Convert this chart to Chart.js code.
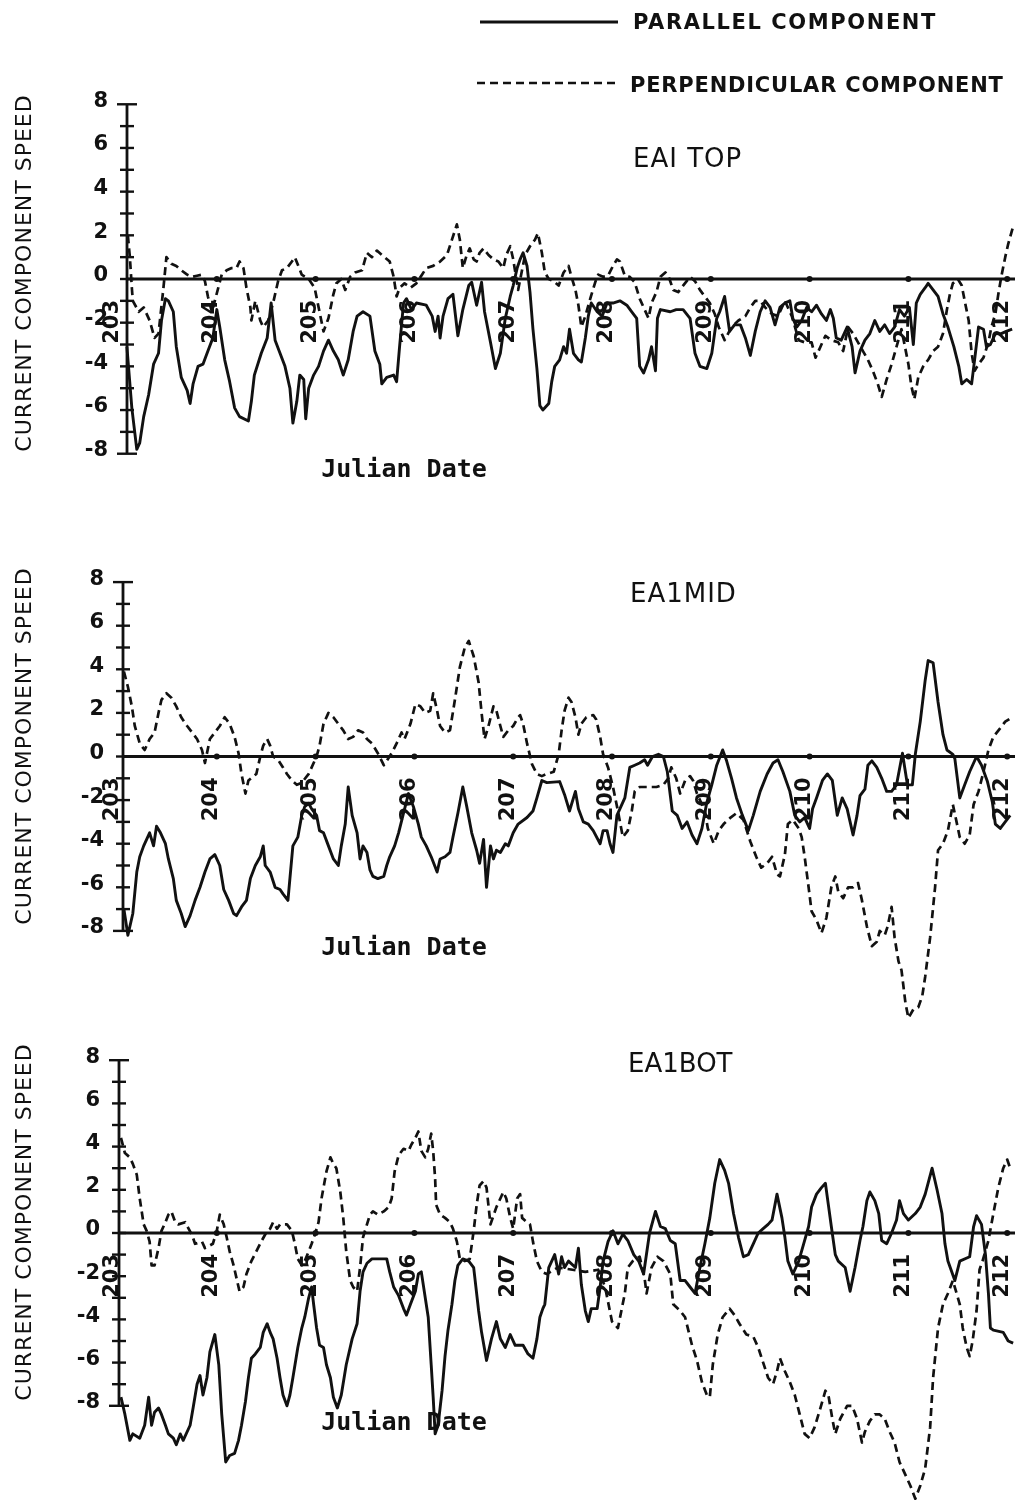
<!DOCTYPE html>
<html>
<head>
<meta charset="utf-8">
<title>Current component speed — EA1 top, mid, bottom</title>
<script src="https://cdn.jsdelivr.net/npm/chart.js@4.4.0/dist/chart.umd.min.js"></script>
<style>
  html, body { margin: 0; padding: 0; background: #fff; }
  #page { position: relative; width: 1017px; height: 1503px; overflow: hidden; background: #fff; }
  #page canvas { position: absolute; left: 0; top: 0; }
</style>
</head>
<body>
<div id="page">
  <canvas id="cTop" width="1017" height="1503"></canvas>
  <canvas id="cMid" width="1017" height="1503"></canvas>
  <canvas id="cBot" width="1017" height="1503"></canvas>
</div>
<script>
// ---- axis ticks and labels ----
const dayTicks = [203, 204, 205, 206, 207, 208, 209, 210, 211, 212];
const dayLabels = ['203', '204', '205', '206', '207', '208', '209', '210', '211', '212'];
const speedTicks = [8, 6, 4, 2, 0, -2, -4, -6, -8];
const speedTickLabels = ['8', '6', '4', '2', '0', '-2', '-4', '-6', '-8'];
const seriesNames = ['PARALLEL COMPONENT', 'PERPENDICULAR COMPONENT'];
const panelTitles = ['EAI TOP', 'EA1MID', 'EA1BOT'];
const dateAxisTitle = 'Julian Date';
const speedAxisTitle = 'CURRENT COMPONENT SPEED';

// ---- EA1 top ----
const topParallelDay = [203.09,203.14,203.19,203.22,203.26,203.31,203.36,203.41,203.44,203.48,
  203.51,203.56,203.59,203.64,203.70,203.73,203.76,203.81,203.86,203.91,
  203.96,204.00,204.03,204.08,204.13,204.18,204.23,204.32,204.35,204.38,
  204.45,204.51,204.55,204.59,204.64,204.69,204.74,204.77,204.81,204.84,
  204.88,204.90,204.93,204.98,205.03,205.08,205.13,205.18,205.23,205.28,
  205.33,205.38,205.42,205.48,205.55,205.60,205.65,205.67,205.72,205.79,
  205.82,205.85,205.89,205.92,205.97,206.02,206.12,206.18,206.21,206.24,
  206.26,206.29,206.34,206.39,206.44,206.49,206.55,206.58,206.63,206.68,
  206.71,206.77,206.82,206.87,206.92,206.97,207.00,207.04,207.07,207.10,
  207.14,207.17,207.20,207.24,207.27,207.30,207.36,207.39,207.42,207.47,
  207.51,207.54,207.57,207.61,207.66,207.69,207.73,207.76,207.79,207.85,
  207.90,207.95,208.01,208.08,208.15,208.20,208.25,208.28,208.32,208.37,
  208.40,208.44,208.46,208.49,208.59,208.65,208.72,208.79,208.84,208.89,
  208.96,209.01,209.06,209.09,209.14,209.19,209.24,209.30,209.35,209.40,
  209.45,209.50,209.55,209.60,209.65,209.70,209.75,209.80,209.83,209.87,
  209.92,209.97,210.02,210.07,210.12,210.17,210.21,210.24,210.27,210.32,
  210.38,210.43,210.46,210.51,210.56,210.61,210.66,210.71,210.76,210.81,
  210.86,210.91,210.96,211.01,211.05,211.08,211.12,211.17,211.20,211.25,
  211.30,211.35,211.40,211.46,211.51,211.54,211.59,211.64,211.67,211.71,
  211.76,211.79,211.83,211.88,211.94,211.99,212.05];
const topParallelSpeed = [-3.1,-5.9,-7.8,-7.5,-6.3,-5.3,-3.9,-3.4,-1.9,-0.9,
  -1.0,-1.5,-3.1,-4.5,-5.1,-5.7,-4.8,-4.0,-3.9,-3.3,
  -2.7,-1.4,-2.2,-3.7,-4.7,-5.9,-6.3,-6.5,-5.6,-4.4,
  -3.4,-2.7,-1.1,-2.8,-3.4,-4.0,-5.0,-6.6,-5.6,-4.4,
  -4.6,-6.4,-5.0,-4.4,-4.0,-3.3,-2.8,-3.3,-3.7,-4.4,
  -3.7,-2.4,-1.7,-1.5,-1.7,-3.3,-3.9,-4.8,-4.5,-4.4,
  -4.7,-3.1,-1.1,-0.9,-1.4,-1.1,-1.2,-1.7,-2.4,-1.7,
  -2.7,-1.7,-0.9,-0.7,-2.6,-1.4,-0.3,-0.15,-1.2,-0.15,
  -1.5,-2.9,-4.1,-3.4,-1.8,-0.8,-0.3,0.5,0.9,1.2,
  0.6,-0.6,-2.3,-4.1,-5.8,-6.0,-5.7,-4.7,-4.0,-3.7,
  -3.1,-3.4,-2.3,-3.4,-3.7,-3.8,-2.7,-1.7,-1.1,-1.5,
  -1.7,-1.1,-1.1,-1.0,-1.2,-1.5,-1.8,-4.0,-4.3,-3.7,
  -3.1,-4.2,-1.8,-1.4,-1.5,-1.4,-1.4,-1.8,-3.4,-4.0,
  -4.1,-3.4,-1.8,-1.5,-0.8,-2.4,-2.1,-2.1,-2.7,-3.5,
  -2.4,-1.5,-1.0,-1.3,-2.1,-1.3,-1.1,-1.0,-1.8,-2.2,
  -1.9,-1.3,-1.5,-1.2,-1.6,-1.9,-1.4,-1.8,-2.7,-2.8,
  -2.2,-3.1,-4.3,-3.3,-2.8,-2.5,-1.9,-2.4,-2.1,-2.5,
  -2.2,-1.4,-1.7,-1.3,-3.0,-1.1,-0.7,-0.4,-0.2,-0.5,
  -0.8,-1.6,-2.2,-3.1,-4.0,-4.8,-4.6,-4.8,-3.7,-2.2,
  -2.3,-3.1,-3.0,-2.5,-2.5,-2.4,-2.3];
const topPerpDay = [203.10,203.12,203.14,203.15,203.21,203.26,203.32,203.37,203.41,203.46,
  203.49,203.54,203.59,203.64,203.70,203.75,203.80,203.85,203.88,203.91,
  203.95,203.98,204.05,204.10,204.15,204.20,204.23,204.27,204.30,204.34,
  204.35,204.39,204.44,204.47,204.52,204.57,204.62,204.66,204.71,204.76,
  204.79,204.86,204.93,204.99,205.08,205.13,205.18,205.21,205.26,205.30,
  205.35,205.40,205.47,205.52,205.57,205.62,205.67,205.75,205.79,205.82,
  205.85,205.90,205.96,206.02,206.07,206.12,206.19,206.26,206.33,206.38,
  206.43,206.46,206.49,206.53,206.56,206.60,206.63,206.66,206.70,206.75,
  206.80,206.85,206.90,206.93,206.97,207.00,207.05,207.12,207.17,207.22,
  207.25,207.29,207.32,207.36,207.41,207.46,207.51,207.56,207.59,207.63,
  207.66,207.69,207.73,207.78,207.83,207.86,207.91,207.96,208.01,208.05,
  208.08,208.13,208.18,208.23,208.28,208.33,208.37,208.40,208.45,208.49,
  208.54,208.57,208.62,208.67,208.72,208.79,208.84,208.89,208.94,208.99,
  209.04,209.08,209.14,209.21,209.28,209.35,209.40,209.45,209.50,209.55,
  209.62,209.68,209.75,209.82,209.89,209.95,210.02,210.06,210.11,210.16,
  210.22,210.29,210.34,210.39,210.44,210.49,210.54,210.59,210.64,210.69,
  210.73,210.78,210.83,210.88,210.93,211.00,211.03,211.06,211.10,211.15,
  211.20,211.25,211.30,211.35,211.39,211.42,211.45,211.50,211.54,211.57,
  211.61,211.64,211.67,211.71,211.76,211.81,211.84,211.88,211.91,211.94,
  211.98,212.01,212.06];
const topPerpSpeed = [2.0,1.0,-0.4,-1.0,-1.5,-1.3,-1.9,-2.7,-2.5,-0.4,
  1.0,0.7,0.6,0.4,0.2,0.1,0.15,0.2,-0.1,-0.8,
  -1.5,-1.0,0.2,0.4,0.5,0.5,0.8,0.5,-0.4,-1.3,
  -1.9,-1.0,-1.9,-2.2,-1.9,-1.1,-0.1,0.4,0.5,0.8,
  1.0,0.2,0.0,-0.4,-2.4,-1.8,-0.7,-0.2,0.0,-0.5,
  0.1,0.3,0.4,1.2,1.0,1.3,1.1,0.8,0.1,-0.8,
  -0.4,-0.2,-0.4,-0.2,0.15,0.5,0.6,0.8,1.1,1.8,
  2.5,1.8,0.5,1.1,1.4,0.9,0.8,1.2,1.4,1.1,
  0.9,0.8,0.5,1.1,1.5,0.9,-0.5,1.1,1.5,1.8,
  2.1,1.2,0.3,0.0,-0.1,-0.3,0.3,0.6,0.1,-0.5,
  -1.2,-2.2,-1.7,-0.9,-0.15,0.2,0.1,0.15,0.6,0.9,
  0.8,0.15,0.1,-0.15,-0.9,-1.4,-1.8,-1.1,-0.6,0.1,
  0.3,0.15,-0.5,-0.6,-0.3,0.1,-0.1,-0.5,-0.8,-1.1,
  -1.6,-2.2,-2.8,-2.2,-1.9,-1.7,-1.3,-1.0,-1.0,-1.3,
  -1.6,-1.7,-1.0,-1.7,-2.8,-2.9,-2.9,-3.6,-3.1,-2.6,
  -2.8,-2.9,-3.3,-2.2,-2.5,-2.9,-3.3,-3.7,-4.2,-4.8,
  -5.4,-4.6,-3.9,-3.1,-2.3,-3.9,-4.9,-5.5,-4.5,-4.0,
  -3.7,-3.3,-3.1,-2.5,-1.4,-0.7,-0.2,0.0,-0.3,-1.0,
  -1.9,-3.4,-4.2,-3.9,-3.6,-2.9,-2.2,-1.6,-0.7,0.1,
  1.0,1.6,2.4];

// ---- EA1 mid ----
const midParallelDay = [203.06,203.10,203.15,203.19,203.22,203.26,203.29,203.32,203.36,203.39,
  203.43,203.48,203.51,203.56,203.59,203.64,203.68,203.73,203.78,203.83,
  203.88,203.93,203.98,204.03,204.07,204.12,204.17,204.20,204.25,204.30,
  204.34,204.39,204.44,204.47,204.49,204.54,204.59,204.64,204.67,204.72,
  204.77,204.82,204.86,204.89,204.93,204.96,205.01,205.04,205.08,205.13,
  205.18,205.23,205.26,205.30,205.33,205.37,205.42,205.45,205.48,205.52,
  205.55,205.58,205.63,205.69,205.72,205.75,205.80,205.84,205.89,205.94,
  205.99,206.04,206.07,206.12,206.17,206.23,206.26,206.31,206.36,206.39,
  206.44,206.49,206.53,206.58,206.63,206.66,206.70,206.73,206.77,206.80,
  206.83,206.87,206.92,206.95,207.00,207.05,207.14,207.20,207.24,207.29,
  207.34,207.47,207.52,207.57,207.63,207.66,207.71,207.76,207.81,207.88,
  207.91,207.95,207.98,208.01,208.05,208.13,208.18,208.23,208.28,208.33,
  208.36,208.41,208.47,208.52,208.56,208.61,208.66,208.71,208.76,208.81,
  208.86,208.91,208.96,209.01,209.06,209.12,209.16,209.21,209.26,209.32,
  209.38,209.43,209.50,209.57,209.63,209.68,209.73,209.80,209.85,209.90,
  209.95,210.00,210.03,210.07,210.13,210.18,210.23,210.28,210.33,210.38,
  210.41,210.44,210.48,210.51,210.56,210.59,210.63,210.68,210.73,210.78,
  210.83,210.88,210.94,210.99,211.04,211.07,211.12,211.17,211.20,211.25,
  211.30,211.35,211.39,211.45,211.47,211.52,211.57,211.62,211.69,211.74,
  211.80,211.85,211.88,211.93,211.98,212.03];
const midParallelSpeed = [-7.0,-8.2,-7.2,-5.3,-4.6,-4.1,-3.8,-3.5,-4.1,-3.2,
  -3.5,-4.0,-4.7,-5.6,-6.6,-7.2,-7.8,-7.3,-6.6,-6.0,
  -5.3,-4.7,-4.5,-5.0,-6.1,-6.6,-7.2,-7.3,-6.9,-6.6,
  -5.6,-5.0,-4.6,-4.1,-5.0,-5.3,-6.0,-6.1,-6.3,-6.6,
  -4.1,-3.7,-2.7,-2.3,-2.15,-2.4,-2.7,-3.4,-3.5,-4.1,
  -4.7,-5.0,-4.1,-3.1,-1.4,-2.7,-3.5,-4.7,-4.1,-4.4,
  -5.2,-5.5,-5.6,-5.5,-5.0,-4.6,-4.1,-3.5,-2.6,-1.7,
  -2.3,-3.1,-3.7,-4.1,-4.6,-5.3,-4.7,-4.6,-4.4,-3.7,
  -2.6,-1.4,-2.3,-3.5,-4.3,-4.9,-3.8,-6.0,-4.1,-4.7,
  -4.3,-4.4,-4.0,-4.1,-3.5,-3.1,-2.8,-2.5,-1.9,-1.1,
  -1.2,-1.15,-1.75,-2.5,-1.6,-2.4,-3.0,-3.1,-3.4,-4.0,
  -3.4,-3.4,-4.0,-4.4,-2.7,-1.9,-0.5,-0.4,-0.3,-0.15,
  -0.4,0.0,0.1,0.0,-0.7,-2.5,-2.7,-3.3,-3.0,-3.6,
  -4.0,-3.3,-2.1,-1.3,-0.4,0.3,-0.2,-1.0,-1.9,-2.7,
  -3.4,-2.7,-1.6,-0.8,-0.3,-0.15,-0.7,-1.6,-2.7,-3.0,
  -2.8,-3.3,-2.4,-1.9,-1.1,-0.8,-1.1,-2.7,-1.9,-2.4,
  -3.0,-3.6,-2.7,-1.8,-1.5,-0.4,-0.2,-0.5,-1.0,-1.6,
  -1.6,-1.3,0.15,-1.3,-1.3,0.1,1.6,3.5,4.4,4.3,
  2.5,1.0,0.3,0.1,-0.1,-1.9,-1.3,-0.7,0.0,-0.4,
  -1.15,-2.1,-3.1,-3.3,-3.0,-2.7];
const midPerpDay = [203.06,203.10,203.14,203.17,203.22,203.27,203.32,203.37,203.41,203.44,
  203.49,203.54,203.59,203.64,203.70,203.75,203.80,203.85,203.88,203.93,
  203.98,204.03,204.08,204.13,204.18,204.22,204.25,204.29,204.32,204.40,
  204.44,204.47,204.51,204.54,204.57,204.62,204.67,204.71,204.76,204.81,
  204.86,204.93,204.96,205.01,205.04,205.08,205.13,205.18,205.23,205.28,
  205.33,205.38,205.43,205.48,205.52,205.57,205.63,205.69,205.72,205.77,
  205.82,205.87,205.90,205.96,206.01,206.06,206.11,206.16,206.19,206.23,
  206.26,206.31,206.36,206.41,206.46,206.51,206.55,206.60,206.65,206.68,
  206.71,206.75,206.80,206.83,206.87,206.90,206.95,207.00,207.05,207.07,
  207.10,207.14,207.19,207.24,207.29,207.34,207.41,207.46,207.49,207.52,
  207.56,207.59,207.63,207.66,207.69,207.74,207.81,207.84,207.88,207.91,
  207.96,208.01,208.06,208.11,208.16,208.20,208.23,208.28,208.35,208.45,
  208.52,208.57,208.60,208.65,208.69,208.74,208.79,208.82,208.86,208.94,
  208.97,209.03,209.08,209.13,209.20,209.26,209.33,209.40,209.46,209.51,
  209.57,209.62,209.67,209.70,209.75,209.78,209.83,209.89,209.92,209.95,
  209.99,210.02,210.07,210.12,210.17,210.22,210.26,210.29,210.34,210.39,
  210.44,210.49,210.53,210.58,210.63,210.68,210.71,210.76,210.79,210.83,
  210.86,210.90,210.93,210.97,211.00,211.05,211.10,211.14,211.17,211.22,
  211.27,211.30,211.35,211.40,211.45,211.52,211.57,211.62,211.66,211.71,
  211.76,211.81,211.86,211.93,211.98,212.05];
const midPerpSpeed = [3.9,3.2,2.3,1.4,0.6,0.3,0.8,1.1,2.0,2.6,
  2.9,2.7,2.3,1.8,1.4,1.1,0.8,0.3,-0.3,0.8,
  1.1,1.4,1.8,1.5,0.9,0.15,-0.8,-1.7,-1.1,-0.8,
  0.0,0.5,0.8,0.5,0.0,-0.15,-0.5,-0.8,-1.1,-1.3,
  -1.2,-0.8,-0.5,0.0,0.5,1.5,2.0,1.8,1.5,1.2,
  0.8,0.9,1.2,1.1,0.8,0.6,0.15,-0.4,-0.2,0.15,
  0.6,1.1,0.8,1.5,2.4,2.3,2.0,2.1,2.9,2.1,
  1.4,1.1,1.2,2.6,4.1,5.0,5.3,4.6,3.4,2.0,
  0.8,1.4,2.3,2.1,1.4,0.9,1.2,1.4,1.8,1.9,
  1.5,0.6,-0.35,-0.8,-0.9,-0.8,-0.7,0.1,1.2,2.1,
  2.7,2.5,1.8,1.0,1.5,1.8,1.9,1.7,0.9,0.1,
  -0.5,-1.4,-2.5,-3.7,-3.4,-2.5,-1.6,-1.4,-1.4,-1.4,
  -1.3,-1.0,-0.5,-1.0,-1.7,-1.1,-0.9,-1.1,-1.7,-2.5,
  -3.3,-4.0,-3.4,-3.1,-2.8,-2.6,-2.9,-3.9,-4.6,-5.1,
  -4.9,-4.6,-5.4,-5.5,-4.5,-3.1,-2.9,-3.3,-3.7,-4.6,
  -6.0,-7.1,-7.5,-8.1,-7.4,-6.0,-5.5,-6.2,-6.5,-6.0,
  -6.0,-5.8,-6.6,-7.8,-8.7,-8.5,-8.0,-8.2,-7.8,-6.9,
  -8.3,-9.4,-9.8,-11.3,-12.0,-11.6,-11.5,-11.0,-10.1,-8.3,
  -6.0,-4.3,-4.0,-3.4,-2.2,-3.7,-4.0,-3.6,-2.2,-1.6,
  -0.7,0.3,0.9,1.3,1.6,1.8];

// ---- EA1 bottom ----
const botParallelDay = [203.03,203.07,203.12,203.15,203.22,203.27,203.31,203.34,203.37,203.41,
  203.44,203.48,203.51,203.56,203.59,203.63,203.66,203.73,203.76,203.80,
  203.83,203.86,203.90,203.93,203.98,204.02,204.05,204.09,204.13,204.18,
  204.22,204.25,204.29,204.32,204.35,204.39,204.44,204.47,204.51,204.54,
  204.57,204.61,204.64,204.67,204.71,204.74,204.77,204.82,204.86,204.89,
  204.93,204.96,204.98,205.01,205.04,205.08,205.11,205.15,205.18,205.22,
  205.26,205.31,205.37,205.42,205.45,205.48,205.52,205.57,205.62,205.72,
  205.75,205.79,205.84,205.89,205.92,205.96,206.01,206.04,206.07,206.14,
  206.17,206.19,206.21,206.24,206.28,206.31,206.34,206.38,206.41,206.44,
  206.49,206.55,206.60,206.65,206.68,206.73,206.78,206.83,206.87,206.92,
  206.97,207.02,207.10,207.15,207.20,207.24,207.27,207.30,207.32,207.36,
  207.39,207.42,207.46,207.49,207.52,207.56,207.63,207.66,207.69,207.73,
  207.76,207.79,207.85,207.88,207.91,207.96,208.01,208.06,208.11,208.16,
  208.22,208.27,208.32,208.38,208.44,208.49,208.54,208.59,208.64,208.69,
  208.74,208.79,208.84,208.89,208.94,208.99,209.04,209.09,209.14,209.18,
  209.23,209.28,209.33,209.38,209.43,209.48,209.53,209.58,209.62,209.67,
  209.72,209.75,209.78,209.83,209.89,209.94,209.99,210.02,210.07,210.12,
  210.16,210.19,210.22,210.26,210.29,210.36,210.41,210.46,210.51,210.54,
  210.58,210.61,210.66,210.70,210.73,210.78,210.83,210.88,210.91,210.95,
  211.00,211.07,211.12,211.17,211.24,211.29,211.34,211.37,211.40,211.47,
  211.52,211.62,211.66,211.69,211.74,211.78,211.81,211.83,211.86,211.96,
  212.01,212.06];
const botParallelSpeed = [-7.6,-8.4,-9.6,-9.3,-9.5,-8.9,-7.6,-8.9,-8.3,-8.1,
  -8.4,-8.9,-9.3,-9.5,-9.8,-9.3,-9.6,-8.9,-8.1,-7.0,
  -6.6,-7.5,-6.7,-5.5,-4.7,-6.1,-8.4,-10.6,-10.3,-10.2,
  -9.6,-8.9,-7.8,-6.7,-5.8,-5.6,-5.3,-4.6,-4.2,-4.6,
  -4.9,-5.8,-6.7,-7.5,-8.0,-7.5,-6.7,-5.3,-4.4,-3.9,
  -3.0,-2.5,-3.3,-4.4,-5.2,-5.3,-6.1,-6.7,-7.6,-8.1,
  -7.5,-6.1,-4.9,-4.2,-2.7,-1.8,-1.4,-1.2,-1.2,-1.2,
  -1.8,-2.5,-2.9,-3.5,-3.8,-3.3,-2.7,-1.9,-1.8,-3.9,
  -6.1,-7.6,-9.3,-8.9,-7.3,-5.7,-4.5,-3.3,-2.2,-1.5,
  -1.2,-1.3,-1.6,-3.6,-4.6,-5.9,-4.9,-4.1,-4.9,-5.3,
  -4.7,-5.2,-5.2,-5.6,-5.8,-4.9,-3.9,-3.5,-3.3,-1.6,
  -1.3,-1.0,-1.9,-1.1,-1.6,-1.3,-1.6,-0.7,-2.4,-3.6,
  -4.1,-3.5,-3.5,-2.5,-1.3,-0.4,0.1,-0.5,-0.05,-0.35,
  -1.0,-1.3,-1.9,0.0,1.0,0.3,0.2,-0.35,-0.5,-2.2,
  -2.2,-2.5,-2.8,-1.6,-0.5,0.7,2.3,3.4,2.9,2.3,
  0.9,-0.2,-1.1,-1.0,-0.5,0.0,0.2,0.4,0.6,1.8,
  0.7,-0.2,-1.3,-1.9,-1.3,-0.5,0.3,1.2,1.8,2.1,
  2.3,1.3,0.3,-1.0,-1.3,-1.6,-2.7,-1.6,-0.35,0.3,
  1.5,1.9,1.5,0.9,-0.35,-0.5,0.0,0.6,1.5,0.9,
  0.6,0.9,1.2,1.8,3.0,2.0,0.9,-0.5,-1.3,-2.2,
  -1.3,-1.1,0.3,0.8,0.4,-1.0,-2.8,-4.4,-4.5,-4.6,
  -5.0,-5.1];
const botPerpDay = [203.03,203.07,203.12,203.15,203.19,203.22,203.26,203.29,203.32,203.34,
  203.37,203.41,203.44,203.48,203.51,203.54,203.58,203.61,203.68,203.75,
  203.78,203.85,203.88,203.96,204.00,204.03,204.07,204.10,204.13,204.17,
  204.20,204.23,204.27,204.30,204.35,204.40,204.45,204.51,204.54,204.57,
  204.61,204.64,204.71,204.76,204.79,204.82,204.86,204.89,204.93,204.96,
  204.99,205.03,205.06,205.11,205.15,205.18,205.21,205.25,205.28,205.31,
  205.35,205.38,205.42,205.45,205.48,205.52,205.55,205.58,205.63,205.69,
  205.74,205.77,205.80,205.84,205.89,205.94,205.97,206.01,206.04,206.07,
  206.11,206.14,206.17,206.19,206.21,206.22,206.26,206.31,206.36,206.39,
  206.43,206.46,206.51,206.56,206.60,206.63,206.66,206.70,206.73,206.77,
  206.83,206.87,206.90,206.93,206.97,207.00,207.04,207.07,207.09,207.14,
  207.17,207.20,207.24,207.29,207.34,207.45,207.60,207.73,207.86,207.93,
  208.00,208.06,208.13,208.16,208.21,208.28,208.33,208.35,208.40,208.46,
  208.52,208.59,208.62,208.69,208.74,208.81,208.86,208.91,208.96,208.99,
  209.02,209.07,209.12,209.19,209.24,209.29,209.36,209.43,209.48,209.53,
  209.58,209.63,209.67,209.70,209.75,209.80,209.85,209.90,209.95,210.00,
  210.05,210.11,210.16,210.19,210.23,210.26,210.31,210.38,210.43,210.48,
  210.53,210.56,210.61,210.66,210.71,210.76,210.81,210.86,210.91,210.97,
  211.02,211.07,211.12,211.17,211.22,211.25,211.30,211.35,211.40,211.45,
  211.52,211.55,211.59,211.62,211.65,211.69,211.72,211.75,211.81,211.86,
  211.91,211.96,212.00,212.03];
const botPerpSpeed = [4.4,3.7,3.5,3.2,2.7,1.6,0.4,0.1,-0.4,-1.5,
  -1.5,-0.7,0.1,0.5,0.85,1.0,0.5,0.4,0.5,-0.1,
  -0.5,-0.4,-0.7,-0.5,0.1,0.85,0.4,-0.2,-0.85,-1.5,
  -2.1,-2.7,-2.5,-1.9,-1.3,-0.85,-0.4,0.1,0.2,0.5,
  0.2,0.4,0.4,0.1,-0.5,-1.2,-1.5,-1.3,-0.85,-0.5,
  -0.1,0.5,1.6,2.85,3.5,3.2,3.0,1.9,0.7,-0.85,
  -2.2,-2.5,-2.7,-1.6,-0.2,0.4,0.85,1.0,0.85,1.0,
  1.2,1.6,2.85,3.6,3.9,3.8,4.1,4.4,4.7,3.8,
  3.5,3.9,4.6,3.8,2.5,1.3,0.85,0.7,0.5,0.2,
  -0.4,-1.2,-1.3,-1.2,0.1,1.3,2.2,2.4,2.1,0.4,
  1.2,1.6,1.9,1.6,0.7,0.2,1.6,1.8,0.7,0.5,
  0.4,-0.4,-1.3,-1.8,-1.9,-1.6,-1.7,-1.8,-1.7,-2.5,
  -4.1,-4.4,-2.8,-1.6,-1.3,-1.1,-2.1,-2.8,-1.6,-1.1,
  -1.3,-1.9,-3.3,-3.6,-3.9,-5.2,-5.9,-6.9,-7.5,-7.6,
  -6.1,-4.7,-3.9,-3.5,-3.8,-4.2,-4.7,-4.8,-5.3,-6.0,
  -6.7,-7.0,-6.4,-5.8,-6.4,-6.9,-7.5,-8.4,-9.3,-9.5,
  -9.0,-8.1,-7.3,-7.5,-8.6,-9.3,-8.6,-8.0,-8.0,-8.6,
  -9.7,-9.2,-8.7,-8.4,-8.4,-8.6,-9.2,-9.7,-10.6,-11.2,
  -11.7,-12.3,-11.7,-10.9,-9.0,-6.7,-4.4,-3.3,-2.8,-2.2,
  -3.3,-4.4,-5.3,-5.7,-5.0,-3.6,-1.7,-1.3,-0.35,0.9,
  2.1,3.0,3.4,3.0];

// ---- page layout (pixels) ----
const PAGE_W = 1017, PAGE_H = 1503;
const DAY203_PX = 118;        // where day 203 sits horizontally
const PX_PER_DAY = 98.8;
const PLOT_RIGHT_PX = 1015;
const INK = '#111';
const FONT = '"DejaVu Sans", "Liberation Sans", sans-serif';
const MONO = '"DejaVu Sans Mono", "Liberation Mono", monospace';

const panels = [
  { canvas: 'cTop', title: panelTitles[0], axisX: 127, zeroY: 279, unit: 21.84, yMin: -9.5, yMax: 10,
    titleX: 633, titleY: 167, titleSpacing: 1, dateY: 477, speedTitleY: 273, legend: true,
    parallel: [topParallelDay, topParallelSpeed], perpendicular: [topPerpDay, topPerpSpeed] },
  { canvas: 'cMid', title: panelTitles[1], axisX: 123, zeroY: 756.5, unit: 21.8, yMin: -13, yMax: 10,
    titleX: 630, titleY: 602, titleSpacing: 1, dateY: 955, speedTitleY: 746, legend: false,
    parallel: [midParallelDay, midParallelSpeed], perpendicular: [midPerpDay, midPerpSpeed] },
  { canvas: 'cBot', title: panelTitles[2], axisX: 119, zeroY: 1233, unit: 21.6, yMin: -12.5, yMax: 10,
    titleX: 628, titleY: 1072, titleSpacing: 0, dateY: 1430, speedTitleY: 1222, legend: false,
    parallel: [botParallelDay, botParallelSpeed], perpendicular: [botPerpDay, botPerpSpeed] }
];

const SOLID = { width: 2.9, dash: [] };
const DASHED = { width: 2.7, dash: [8, 5] };

function toPoints(days, speeds) {
  const n = Math.min(days.length, speeds.length);
  const out = [];
  for (let i = 0; i < n; i++) out.push({ x: days[i], y: speeds[i] });
  return out;
}
const pxToDay = px => 203 + (px - DAY203_PX) / PX_PER_DAY;

function withSpacing(ctx, spacing, fn) {
  const prev = ctx.letterSpacing;
  if ('letterSpacing' in ctx) ctx.letterSpacing = spacing + 'px';
  fn();
  if ('letterSpacing' in ctx) ctx.letterSpacing = prev;
}

// axes, day labels, titles and legend drawn over each panel
function panelFrame(cfg) {
  return {
    id: 'panelFrame',
    afterDraw(chart) {
      const { ctx, chartArea: area } = chart;
      const xs = chart.scales.x, ys = chart.scales.y;
      const y0 = ys.getPixelForValue(0);
      ctx.save();
      ctx.strokeStyle = INK;
      ctx.fillStyle = INK;
      ctx.setLineDash([]);

      // zero line with day marks
      ctx.lineWidth = 2.8;
      ctx.beginPath();
      ctx.moveTo(area.left, y0);
      ctx.lineTo(area.right, y0);
      ctx.stroke();

      ctx.font = 'bold 21px ' + FONT;
      dayTicks.forEach((d, i) => {
        const px = xs.getPixelForValue(d);
        if (px > area.left + 2) {
          ctx.beginPath();
          ctx.arc(px, y0, 3, 0, Math.PI * 2);
          ctx.fill();
        }
        ctx.save();
        ctx.translate(px - 5, y0 + 21);
        ctx.rotate(-Math.PI / 2);
        ctx.textAlign = 'right';
        ctx.textBaseline = 'middle';
        ctx.fillText(dayLabels[i], 0, 0);
        ctx.restore();
      });

      // speed axis from -8 to 8 with a cross mark at every unit
      const top = speedTicks[0], bottom = speedTicks[speedTicks.length - 1];
      ctx.lineWidth = 2.8;
      ctx.beginPath();
      ctx.moveTo(area.left, ys.getPixelForValue(top));
      ctx.lineTo(area.left, ys.getPixelForValue(bottom));
      ctx.stroke();
      ctx.lineWidth = 2.4;
      for (let v = bottom; v <= top; v += 1) {
        const py = ys.getPixelForValue(v);
        const half = (v === top || v === bottom) ? 10 : 7;
        ctx.beginPath();
        ctx.moveTo(area.left - half, py);
        ctx.lineTo(area.left + half, py);
        ctx.stroke();
      }
      ctx.font = 'bold 21px ' + FONT;
      ctx.textAlign = 'right';
      ctx.textBaseline = 'middle';
      speedTicks.forEach((v, i) => {
        ctx.fillText(speedTickLabels[i], area.left - 19, ys.getPixelForValue(v) - 3);
      });

      // speed axis title
      ctx.save();
      ctx.translate(25, cfg.speedTitleY);
      ctx.rotate(-Math.PI / 2);
      ctx.font = '22px ' + FONT;
      ctx.textAlign = 'center';
      ctx.textBaseline = 'middle';
      withSpacing(ctx, 1, () => ctx.fillText(speedAxisTitle, 0, 0));
      ctx.restore();

      // date axis title
      ctx.font = 'bold 25px ' + MONO;
      ctx.textAlign = 'center';
      ctx.textBaseline = 'alphabetic';
      ctx.fillText(dateAxisTitle, 404, cfg.dateY);

      // panel title
      ctx.font = '26px ' + FONT;
      ctx.textAlign = 'left';
      withSpacing(ctx, cfg.titleSpacing, () => ctx.fillText(cfg.title, cfg.titleX, cfg.titleY));

      // legend
      if (cfg.legend) {
        const rows = [
          { style: SOLID, x0: 480, x1: 618, y: 22, textX: 633, base: 29, spacing: 1.6, name: chart.data.datasets[0].label },
          { style: DASHED, x0: 477, x1: 618, y: 83, textX: 630, base: 92, spacing: 0.8, name: chart.data.datasets[1].label }
        ];
        rows.forEach(r => {
          ctx.lineWidth = r.style.width;
          ctx.setLineDash(r.style.dash);
          ctx.beginPath();
          ctx.moveTo(r.x0, r.y);
          ctx.lineTo(r.x1, r.y);
          ctx.stroke();
          ctx.setLineDash([]);
          ctx.font = 'bold 21px ' + FONT;
          ctx.textAlign = 'left';
          ctx.textBaseline = 'alphabetic';
          withSpacing(ctx, r.spacing, () => ctx.fillText(r.name, r.textX, r.base));
        });
      }
      ctx.restore();
    }
  };
}

panels.forEach(cfg => {
  const areaTop = cfg.zeroY - cfg.yMax * cfg.unit;
  const areaBottom = cfg.zeroY - cfg.yMin * cfg.unit;
  new Chart(document.getElementById(cfg.canvas), {
    type: 'line',
    data: {
      datasets: [
        { label: seriesNames[0], data: toPoints(cfg.parallel[0], cfg.parallel[1]),
          borderColor: INK, borderWidth: SOLID.width, borderDash: SOLID.dash,
          pointRadius: 0, tension: 0, fill: false, clip: false, borderJoinStyle: 'round' },
        { label: seriesNames[1], data: toPoints(cfg.perpendicular[0], cfg.perpendicular[1]),
          borderColor: INK, borderWidth: DASHED.width, borderDash: DASHED.dash,
          pointRadius: 0, tension: 0, fill: false, clip: false, borderJoinStyle: 'round' }
      ]
    },
    options: {
      responsive: false,
      animation: false,
      devicePixelRatio: 1,
      events: [],
      layout: { padding: { left: cfg.axisX, right: PAGE_W - PLOT_RIGHT_PX,
                           top: areaTop, bottom: Math.max(0, PAGE_H - areaBottom) } },
      scales: {
        x: { type: 'linear', min: pxToDay(cfg.axisX), max: pxToDay(PLOT_RIGHT_PX), display: false },
        y: { type: 'linear', min: cfg.yMin, max: cfg.yMax, display: false }
      },
      plugins: { legend: { display: false }, tooltip: { enabled: false }, title: { display: false } }
    },
    plugins: [panelFrame(cfg)]
  });
});
</script>
</body>
</html>
